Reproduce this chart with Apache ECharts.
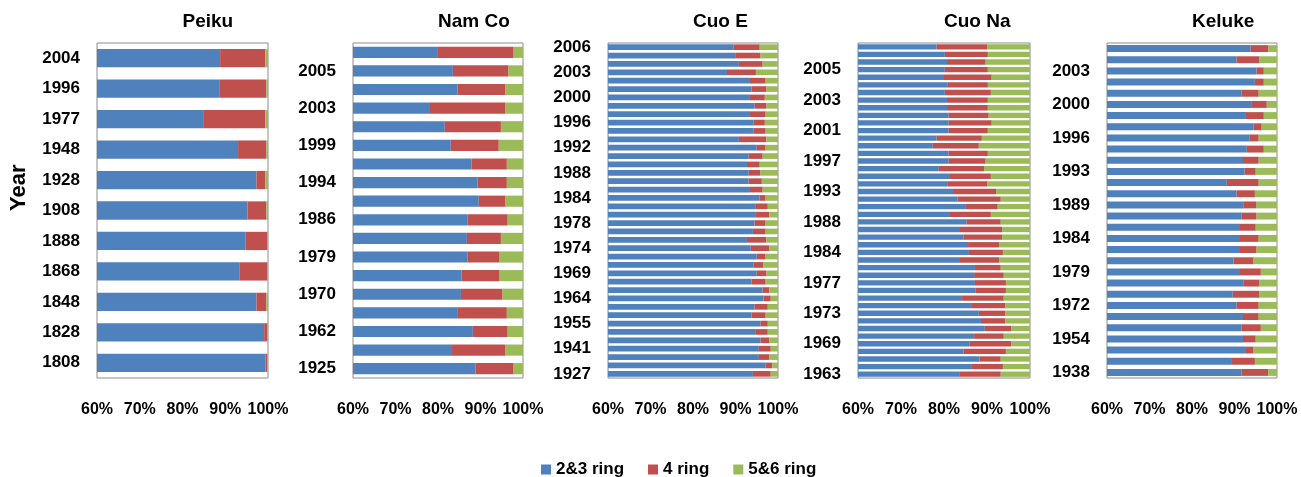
<!DOCTYPE html>
<html>
<head>
<meta charset="utf-8">
<script src="https://cdn.jsdelivr.net/npm/echarts@6/dist/echarts.min.js"></script>
<style>
  html, body { margin: 0; padding: 0; background: #fff; }
  #chart { width: 1301px; height: 477px; }
</style>
</head>
<body>
<div id="chart"></div>
<script>
// Ring-size composition (% of total PAH) per dated layer, newest layer first.
// Empty strings mark layers whose year is not printed on the axis.

const ringNames = ['2&3 ring', '4 ring', '5&6 ring'];
const ringColors = ['#4F81BD', '#C0504D', '#9BBB59'];
const tickLabels = ['60%', '70%', '80%', '90%', '100%'];

// Peiku
const peikuYears  = ['2004', '1996', '1977', '1948', '1928', '1908', '1888', '1868', '1848', '1828', '1808'];
const peikuRing23 = [88.8, 88.6, 85.0, 93.0, 97.3, 95.2, 94.7, 93.4, 97.3, 99.1, 99.4];
const peikuRing4  = [10.6, 11.0, 14.4, 6.6, 2.1, 4.4, 5.1, 6.4, 2.3, 0.7, 0.4];
const peikuRing56 = [0.6, 0.4, 0.6, 0.4, 0.6, 0.4, 0.2, 0.2, 0.4, 0.2, 0.2];

// Nam Co
const namcoYears  = ['', '2005', '', '2003', '', '1999', '', '1994', '', '1986', '', '1979', '', '1970', '', '1962', '', '1925'];
const namcoRing23 = [79.8, 83.5, 84.6, 77.9, 81.6, 83.0, 87.9, 89.3, 89.6, 87.0, 86.8, 87.0, 85.5, 85.4, 84.5, 88.2, 83.3, 88.8];
const namcoRing4  = [18.0, 13.1, 11.3, 18.0, 13.2, 11.3, 8.3, 6.9, 6.3, 9.4, 8.0, 7.5, 9.0, 9.8, 11.7, 8.2, 12.6, 9.0];
const namcoRing56 = [2.2, 3.4, 4.1, 4.1, 5.2, 5.7, 3.8, 3.8, 4.1, 3.6, 5.2, 5.5, 5.5, 4.8, 3.8, 3.6, 4.1, 2.2];

// Cuo E
const cuoeYears  = ['2006', '', '', '2003', '', '', '2000', '', '', '1996', '', '', '1992', '', '', '1988', '', '', '1984', '', '',
                    '1978', '', '', '1974', '', '', '1969', '', '', '1964', '', '', '1955', '', '', '1941', '', '', '1927'];
const cuoeRing23 = [89.6, 90.1, 90.8, 88.0, 93.4, 93.8, 93.4, 94.5, 93.4, 94.3, 94.3, 90.8, 95.0, 93.1, 92.7, 93.1, 93.1, 93.4, 95.7, 94.8,
                    94.8, 94.5, 94.1, 92.7, 93.6, 95.0, 94.3, 95.0, 93.8, 96.4, 96.6, 94.5, 93.8, 95.9, 94.8, 95.9, 95.5, 95.5, 97.1, 94.1];
const cuoeRing4  = [6.1, 5.8, 5.6, 6.8, 3.7, 3.5, 3.5, 2.8, 3.7, 2.6, 2.8, 6.5, 2.1, 3.3, 3.0, 2.8, 3.1, 3.0, 1.4, 2.8,
                    3.2, 2.6, 3.0, 4.6, 4.4, 2.1, 2.3, 2.3, 3.3, 1.6, 1.7, 3.1, 3.3, 1.7, 2.8, 2.1, 2.8, 2.5, 1.6, 4.2];
const cuoeRing56 = [4.3, 4.1, 3.6, 5.2, 2.9, 2.7, 3.1, 2.7, 2.9, 3.1, 2.9, 2.7, 2.9, 3.6, 4.3, 4.1, 3.8, 3.6, 2.9, 2.4,
                    2.0, 2.9, 2.9, 2.7, 2.0, 2.9, 3.4, 2.7, 2.9, 2.0, 1.7, 2.4, 2.9, 2.4, 2.4, 2.0, 1.7, 2.0, 1.3, 1.7];

// Cuo Na
const cuonaYears  = ['', '', '', '2005', '', '', '', '2003', '', '', '', '2001', '', '', '', '1997', '', '', '', '1993', '', '',
                     '', '1988', '', '', '', '1984', '', '', '', '1977', '', '', '', '1973', '', '', '', '1969', '', '', '', '1963'];
const cuonaRing23 = [78.3, 80.2, 80.7, 80.2, 80.0, 80.9, 80.2, 80.7, 80.7, 81.1, 81.1, 81.1, 78.3, 77.4, 81.1, 81.1, 78.8, 81.4, 80.9, 82.1, 83.2, 85.1,
                     81.4, 85.3, 83.5, 84.6, 85.6, 85.8, 83.5, 87.2, 87.0, 87.2, 87.4, 84.2, 86.3, 88.1, 88.6, 89.5, 87.0, 86.0, 84.6, 88.3, 86.5, 83.7];
const cuonaRing4  = [11.7, 10.0, 9.0, 10.0, 11.1, 9.3, 10.7, 9.5, 9.5, 9.3, 10.0, 9.1, 10.5, 10.7, 9.1, 8.6, 10.5, 9.5, 9.1, 10.0, 10.0, 7.4,
                     9.5, 7.9, 10.0, 8.9, 7.2, 7.9, 9.3, 6.0, 6.9, 7.2, 7.0, 9.7, 7.9, 6.1, 5.6, 6.1, 6.9, 9.6, 9.8, 4.9, 7.2, 9.5];
const cuonaRing56 = [10.0, 9.8, 10.3, 9.8, 8.9, 9.8, 9.1, 9.8, 9.8, 9.6, 8.9, 9.8, 11.2, 11.9, 9.8, 10.3, 10.7, 9.1, 10.0, 7.9, 6.8, 7.5,
                     9.1, 6.8, 6.5, 6.5, 7.2, 6.3, 7.2, 6.8, 6.1, 5.6, 5.6, 6.1, 5.8, 5.8, 5.8, 4.4, 6.1, 4.4, 5.6, 6.8, 6.3, 6.8];

// Keluke
const kelukeYears  = ['', '', '2003', '', '', '2000', '', '', '1996', '', '', '1993', '', '', '1989', '', '', '1984', '', '',
                      '1979', '', '', '1972', '', '', '1954', '', '', '1938'];
const kelukeRing23 = [93.8, 90.5, 95.2, 94.8, 91.7, 94.1, 92.7, 94.5, 93.6, 92.9, 92.0, 92.4, 88.2, 90.5, 92.2, 91.7, 91.3, 91.3, 91.3, 89.8,
                      91.3, 92.2, 89.6, 90.5, 92.0, 91.7, 92.0, 92.7, 89.4, 91.7];
const kelukeRing4  = [4.2, 5.4, 1.7, 2.1, 4.0, 3.5, 4.2, 1.9, 2.1, 4.0, 3.7, 2.6, 7.5, 4.3, 3.0, 3.5, 3.7, 4.4, 3.9, 4.7,
                      4.9, 3.7, 6.3, 5.2, 3.7, 4.5, 3.0, 1.8, 5.4, 6.2];
const kelukeRing56 = [2.0, 4.1, 3.1, 3.1, 4.3, 2.4, 3.1, 3.6, 4.3, 3.1, 4.3, 5.0, 4.3, 5.2, 4.8, 4.8, 5.0, 4.3, 4.8, 5.5,
                      3.8, 4.1, 4.1, 4.3, 4.3, 3.8, 5.0, 5.5, 5.2, 2.1];

const sites = [
  { name: 'Peiku',  years: peikuYears,  rings: [peikuRing23, peikuRing4, peikuRing56] },
  { name: 'Nam Co', years: namcoYears,  rings: [namcoRing23, namcoRing4, namcoRing56] },
  { name: 'Cuo E',  years: cuoeYears,   rings: [cuoeRing23, cuoeRing4, cuoeRing56] },
  { name: 'Cuo Na', years: cuonaYears,  rings: [cuonaRing23, cuonaRing4, cuonaRing56] },
  { name: 'Keluke', years: kelukeYears, rings: [kelukeRing23, kelukeRing4, kelukeRing56] }
];

// Panel placement (pixels)
const panelLeft  = [97, 353, 608, 858, 1107];
const panelWidth = [171, 170, 170, 172, 170];
const panelTop = 43;
const panelHeight = 335;
const barGap = ['40%', '40%', '32%', '30%', '38%'];

const FONT = '"Liberation Sans", Arial, sans-serif';

const grids = [], xAxes = [], yAxes = [], series = [], texts = [];

sites.forEach((site, i) => {
  grids.push({
    left: panelLeft[i], top: panelTop, width: panelWidth[i], height: panelHeight,
    show: true, borderColor: '#8c8c8c', borderWidth: 1, backgroundColor: 'transparent',
    containLabel: false
  });
  xAxes.push({
    type: 'value', gridIndex: i, min: 60, max: 100, interval: 10,
    axisLine: { show: false }, axisTick: { show: false }, splitLine: { show: false },
    axisLabel: {
      margin: 24, color: '#000', fontWeight: 'bold', fontSize: 16, fontFamily: FONT,
      formatter: v => tickLabels[Math.round((v - 60) / 10)]
    }
  });
  yAxes.push({
    type: 'category', gridIndex: i, inverse: true, data: site.years,
    axisLine: { show: false }, axisTick: { show: false }, splitLine: { show: false },
    axisLabel: { interval: 0, margin: 17, color: '#000', fontWeight: 'bold', fontSize: 17, fontFamily: FONT }
  });
  site.rings.forEach((vals, k) => {
    series.push({
      type: 'bar', name: ringNames[k], xAxisIndex: i, yAxisIndex: i,
      stack: 'site' + i, data: vals, clip: true,
      barCategoryGap: barGap[i],
      itemStyle: { color: ringColors[k] },
      emphasis: { disabled: true }, animation: false
    });
  });
  texts.push({
    type: 'text', left: panelLeft[i] + panelWidth[i] / 2, top: 12,
    style: { text: site.name, font: 'bold 19px ' + FONT, fill: '#000', textAlign: 'center' }
  });
});

texts.push({
  type: 'text', rotation: Math.PI / 2, x: 8, y: 211,
  style: { text: 'Year', font: 'bold 22px ' + FONT, fill: '#000', textAlign: 'left', textVerticalAlign: 'top' }
});

const chart = echarts.init(document.getElementById('chart'), null, { renderer: 'canvas' });
chart.setOption({
  animation: false,
  backgroundColor: '#fff',
  grid: grids,
  xAxis: xAxes,
  yAxis: yAxes,
  series: series,
  legend: {
    data: ringNames, left: 536, top: 456, itemWidth: 10, itemHeight: 10, itemGap: 24,
    icon: 'rect',
    textStyle: { color: '#000', fontWeight: 'bold', fontSize: 17, fontFamily: FONT }
  },
  graphic: texts
});
</script>
</body>
</html>
